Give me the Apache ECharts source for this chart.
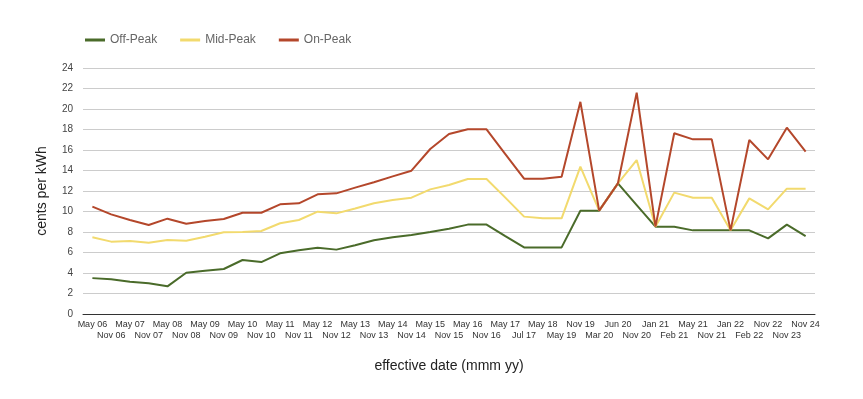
<!DOCTYPE html>
<html><head><meta charset="utf-8">
<script src="https://cdn.jsdelivr.net/npm/echarts@6/dist/echarts.min.js"></script>
<style>html,body{margin:0;padding:0;background:#fff}#c{width:863px;height:399px}</style>
</head><body><div id="c"></div>
<script>
const categories = ['May 06','Nov 06','May 07','Nov 07','May 08','Nov 08','May 09','Nov 09','May 10','Nov 10','May 11','Nov 11','May 12','Nov 12','May 13','Nov 13','May 14','Nov 14','May 15','Nov 15','May 16','Nov 16','May 17','Jul 17','May 18','May 19','Nov 19','Mar 20','Jun 20','Nov 20','Jan 21','Feb 21','May 21','Nov 21','Jan 22','Feb 22','Nov 22','Nov 23','Nov 24'];
const offPeak = [3.5,3.4,3.15,3.0,2.7,4.03,4.23,4.39,5.27,5.07,5.92,6.21,6.47,6.28,6.7,7.19,7.48,7.7,8.0,8.32,8.72,8.72,7.6,6.5,6.5,6.5,10.08,10.08,12.75,10.63,8.52,8.52,8.16,8.16,8.16,8.16,7.38,8.72,7.6];
const midPeak = [7.48,7.06,7.12,6.96,7.22,7.15,7.54,7.97,8.0,8.1,8.85,9.17,9.98,9.82,10.3,10.8,11.12,11.35,12.16,12.58,13.17,13.17,11.35,9.5,9.33,9.33,14.37,10.08,12.75,15.02,8.52,11.84,11.35,11.35,8.16,11.28,10.2,12.23,12.23];
const onPeak = [10.47,9.72,9.17,8.68,9.3,8.81,9.07,9.27,9.88,9.88,10.7,10.8,11.68,11.77,12.33,12.85,13.43,13.98,16.1,17.56,18.02,18.02,15.6,13.2,13.2,13.4,20.7,10.08,12.75,21.6,8.52,17.63,17.04,17.04,8.16,16.98,15.09,18.18,15.84];
const yTicks = [0,2,4,6,8,10,12,14,16,18,20,22,24];

const chart = echarts.init(document.getElementById('c'), null, {renderer:'canvas'});
const mk = (name, data, color) => ({
  name, type:'line', data, symbol:'none', smooth:false,
  lineStyle:{color, width:2}, itemStyle:{color}
});
chart.setOption({
  animation:false,
  textStyle:{fontFamily:'Liberation Sans, Arial, sans-serif'},
  legend:{
    left:80, top:29, itemWidth:20, itemHeight:3, itemGap:23, icon:'rect',
    textStyle:{fontSize:12, color:'#666'},
    data:['Off-Peak','Mid-Peak','On-Peak']
  },
  grid:{left:83, right:48, top:68, bottom:85},
  xAxis:{
    type:'category', data:categories, boundaryGap:true,
    name:'effective date (mmm yy)', nameLocation:'middle', nameGap:45,
    nameTextStyle:{fontSize:14, color:'#222'},
    axisLine:{lineStyle:{color:'#333', width:1}},
    axisTick:{show:false},
    axisLabel:{interval:0, fontSize:9, color:'#333', margin:5, lineHeight:11,
      formatter:(v,i)=> i%2 ? '\n'+v : v}
  },
  yAxis:{
    type:'value', min:0, max:24, interval:2,
    name:'cents per kWh', nameLocation:'middle', nameGap:34,
    nameTextStyle:{fontSize:14, color:'#222'},
    axisLine:{show:false}, axisTick:{show:false},
    axisLabel:{fontSize:10, color:'#444', margin:10,
      formatter:v=> yTicks.includes(v) ? String(v) : ''},
    splitLine:{lineStyle:{color:'#ccc', width:1}}
  },
  series:[
    mk('Off-Peak', offPeak, '#4a6b2a'),
    mk('Mid-Peak', midPeak, '#f2da6e'),
    mk('On-Peak', onPeak, '#b4472b')
  ]
});
</script></body></html>
